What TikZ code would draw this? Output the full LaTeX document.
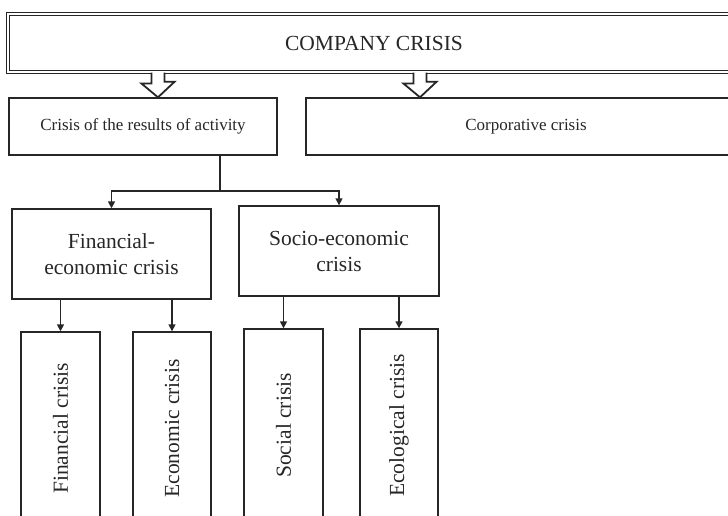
\documentclass[tikz,border=0pt]{standalone}
\usepackage{fontspec}
\setmainfont{Liberation Serif}
\usetikzlibrary{arrows.meta,calc}
\begin{document}
\begin{tikzpicture}[x=1pt,y=-1pt,
  box/.style={draw=black!85, line width=1.4pt, rectangle, inner sep=0pt,
    font=\fontsize{21.5}{26}\selectfont, align=center, text=black!85},
  midbox/.style={box, font=\fontsize{17}{20}\selectfont},
  vbox/.style={box, rotate=90},
  frame/.style={draw=black!85, line width=1.1pt, double=white, double distance=2.6pt,
    rectangle, inner sep=0pt, font=\fontsize{21.5}{26}\selectfont, text=black!85},
  link/.style={draw=black!85, line width=1.5pt},
  arr/.style={link, -{Triangle[length=7pt,width=7pt]}},
  blockarrow/.style={draw=black!85, line width=1.8pt, fill=white, line join=miter}]
\useasboundingbox (0,0) rectangle (728,515);
\clip (0,0) rectangle (728,515);

% top level
\node[frame, minimum width=732, minimum height=58] (top) at (374,43) {COMPANY CRISIS};

% second level
\node[midbox, minimum width=268, minimum height=57] (res) at (143,126.5) {Crisis of the results of activity};
\node[midbox, minimum width=440, minimum height=57] (corp) at (526,126.5) {Corporative crisis};

% hollow block arrows from the top frame
\foreach \bx/\tgt in {158/res, 420/corp}{
  \coordinate (s) at (\bx,0);
  \draw[blockarrow] (s |- top.south) ++(-6.5,0) -- ++(0,11) -- ++(-10,0)
     -- ($(s |- \tgt.north)$) -- ++(16.5,-15.5) -- ++(-10,0) -- ($(s |- top.south)+(6.5,0)$);
}

% third level
\node[box, minimum width=199, minimum height=90] (fe) at (111.5,254) {Financial-\\economic crisis};
\node[box, minimum width=200, minimum height=90] (se) at (339,251) {Socio-economic\\crisis};

\coordinate (split) at (220,191);
\draw[link] (split |- res.south) -- (split);
\draw[arr] (split) -| (fe.north);
\draw[arr] (split) -| (se.north);

% bottom level
\node[vbox, minimum width=193, minimum height=79] (fin) at (60.5,428.5) {Financial crisis};
\node[vbox, minimum width=193, minimum height=78] (eco) at (172,428.5) {Economic crisis};
\node[vbox, minimum width=193, minimum height=79] (soc) at (283.5,425.5) {Social crisis};
\node[vbox, minimum width=193, minimum height=78] (ecl) at (399,425.5) {Ecological crisis};

\foreach \c/\p in {fin/fe, eco/fe, soc/se, ecl/se}{
  \draw[arr] (\c.east |- \p.south) -- (\c.east);
}
\end{tikzpicture}
\end{document}
